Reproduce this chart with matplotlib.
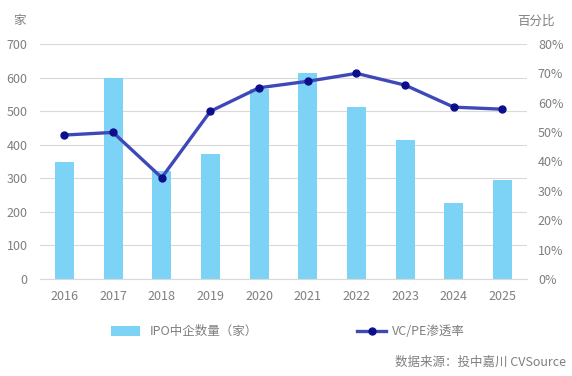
import matplotlib
matplotlib.use("Agg")
import matplotlib.pyplot as plt
from matplotlib.ticker import FuncFormatter

plt.rcParams['font.family'] = ['Noto Sans CJK SC', 'DejaVu Sans']

years = ["2016", "2017", "2018", "2019", "2020", "2021", "2022", "2023", "2024", "2025"]
ipo_counts = [348, 598, 321, 372, 565, 613, 512, 414, 226, 295]
vcpe_rate = [49.0, 49.9, 34.5, 57.1, 65.1, 67.3, 70.0, 66.0, 58.5, 57.8]

BAR_C = "#7dd3f5"
LINE_C = "#3f48b8"
MARK_C = "#0b0f8c"
GRID_C = "#d9d9d9"
TXT_C = "#7f7f7f"

fig = plt.figure(figsize=(5.72, 3.76), dpi=100)
ax = fig.add_axes([0.070, 0.258, 0.851, 0.625])
ax2 = ax.twinx()

x = list(range(len(years)))
bars = ax.bar(x, ipo_counts, width=0.39, color=BAR_C, zorder=2,
              label="IPO中企数量（家）")
line, = ax2.plot(x, vcpe_rate, color=LINE_C, lw=2.4, marker="o", ms=5,
                 mfc=MARK_C, mec=MARK_C, zorder=3, label="VC/PE渗透率")

ax.set_xlim(-0.5, 9.5)
ax.set_ylim(0, 700)
ax.set_yticks(range(0, 701, 100))
ax2.set_ylim(0, 80)
ax2.set_yticks(range(0, 81, 10))
ax2.yaxis.set_major_formatter(FuncFormatter(lambda v, _: f"{int(v)}%"))
ax.set_xticks(x)
ax.set_xticklabels(years)

ax.grid(axis="y", color=GRID_C, lw=0.8, zorder=0)
ax.set_axisbelow(True)
for a in (ax, ax2):
    for s in a.spines.values():
        s.set_visible(False)
    a.tick_params(length=0, colors=TXT_C, labelsize=9)
ax.spines["bottom"].set_visible(True)
ax.spines["bottom"].set_color(GRID_C)
ax.tick_params(axis="x", pad=8)
ax.tick_params(axis="y", pad=9)
ax2.tick_params(axis="y", pad=8)
ax.set_zorder(ax2.get_zorder() - 1)
ax2.patch.set_visible(False)

fig.text(0.023, 0.945, "家", color=TXT_C, fontsize=9, ha="left", va="center")
fig.text(0.970, 0.943, "百分比", color=TXT_C, fontsize=9, ha="right", va="center")

fig.legend(handles=[bars], loc="center left", bbox_to_anchor=(0.175, 0.118),
           frameon=False, fontsize=9, labelcolor=TXT_C, handlelength=2.3,
           handleheight=0.8)
fig.legend(handles=[line], loc="center left", bbox_to_anchor=(0.605, 0.118),
           frameon=False, fontsize=9, labelcolor=TXT_C, handlelength=2.3,
           handletextpad=0.5)

fig.text(0.990, 0.035, "数据来源：投中嘉川 CVSource", color=TXT_C, fontsize=9,
         ha="right", va="center", style="italic")

fig.savefig("out.png", dpi=100)
